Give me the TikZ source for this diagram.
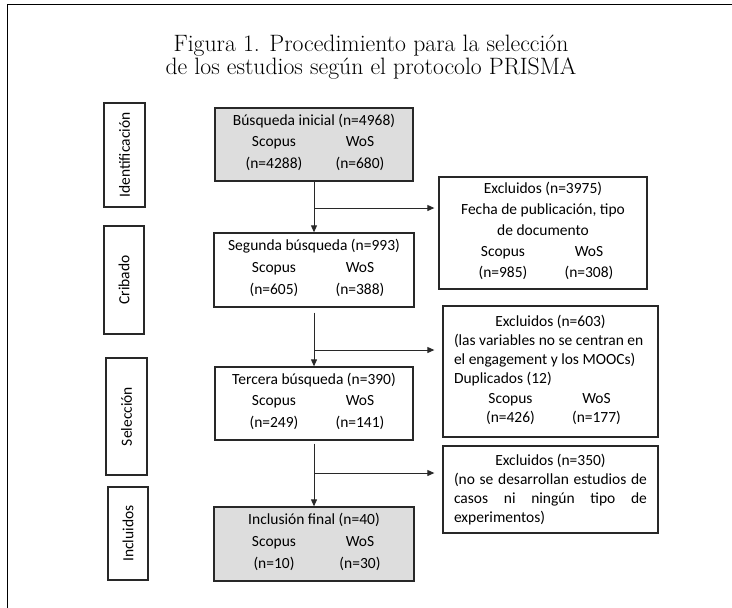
\documentclass[tikz,border=0pt]{standalone}
\usepackage{fontspec}
\usepackage{array}
\newfontfamily\bodyfont{Carlito}
\usetikzlibrary{arrows.meta}
\setlength{\parindent}{0pt}
\definecolor{boxgray}{RGB}{221,221,221}
\definecolor{linec}{RGB}{40,40,40}
\newcommand\swcols[4]{\hspace*{6pt}\begin{tabular}[t]{@{}>{\centering}p{74pt}>{\centering\arraybackslash}p{74pt}@{}}#1&#2\\#3&#4\end{tabular}}
\begin{document}
\begin{tikzpicture}[x=1pt,y=-1pt,
  mbox/.style={draw=linec,line width=1.3pt,inner sep=0pt,align=center,
    font=\bodyfont\fontsize{15.5}{21.7}\selectfont},
  grayed/.style={fill=boxgray},
  lab/.style={draw=linec,line width=1.3pt,inner sep=0pt,rotate=90,
    font=\bodyfont\fontsize{15.5}{18}\selectfont},
  conn/.style={draw=linec,line width=0.9pt},
  arr/.style={-{Triangle[length=7pt,width=6pt]}}]
\useasboundingbox (0,0) rectangle (732,608);
% outer frame
\draw[line width=1.8pt,black] (7.5,608) -- (7.5,4.5) -- (732,4.5);
% title
\node[font=\fontsize{23.7}{23.5}\selectfont,align=center] (title) at (371,57)
  {Figura 1. Procedimiento para la selección\\de los estudios según el protocolo PRISMA};
% phase labels
\node[lab,minimum width=104pt,minimum height=41pt] (L1) at (124.5,155) {Identificación};
\node[lab,minimum width=108pt,minimum height=40pt] (L2) at (124,280) {Cribado};
\node[lab,minimum width=117pt,minimum height=41pt] (L3) at (126.5,416.5) {Selección};
\node[lab,minimum width=93pt,minimum height=40pt] (L4) at (128,533.5) {Incluidos};
% main boxes
\node[mbox,grayed,minimum width=198pt,minimum height=73pt] (B1) at (314,144.5)
  {Búsqueda inicial (n=4968)\\\swcols{Scopus}{WoS}{(n=4288)}{(n=680)}};
\node[mbox,minimum width=200pt,minimum height=74pt] (B2) at (314,270)
  {Segunda búsqueda (n=993)\\\swcols{Scopus}{WoS}{(n=605)}{(n=388)}};
\node[mbox,minimum width=198pt,minimum height=73pt] (B3) at (314,403.5)
  {Tercera búsqueda (n=390)\\\swcols{Scopus}{WoS}{(n=249)}{(n=141)}};
\node[mbox,grayed,minimum width=200pt,minimum height=74pt] (B4) at (314,544)
  {Inclusión final (n=40)\\\swcols{Scopus}{WoS}{(n=10)}{(n=30)}};
% exclusion boxes
\node[mbox,font=\bodyfont\fontsize{15.5}{21}\selectfont,minimum width=208pt,minimum height=112pt] (E1) at (543,233)
  {Excluidos (n=3975)\\Fecha de publicación, tipo\\de documento\\\swcols{Scopus}{WoS}{(n=985)}{(n=308)}};
\node[mbox,align=none,text width=193pt,font=\bodyfont\fontsize{15.5}{19.3}\selectfont,minimum width=215pt,minimum height=131pt] (E2) at (550.5,371.5)
  {\centering Excluidos (n=603)\par
   \raggedright (las variables no se centran en\\el engagement y los MOOCs)\\Duplicados (12)\par
   \centering\swcols{Scopus}{WoS}{(n=426)}{(n=177)}\par};
\node[mbox,align=none,text width=193pt,font=\bodyfont\fontsize{15.5}{19.1}\selectfont,minimum width=215pt,minimum height=87pt] (E3) at (550.5,489.5)
  {\centering Excluidos (n=350)\par
   \leftskip=0pt \rightskip=0pt \parfillskip=0pt plus 1fil
   (no se desarrollan estudios de\linebreak casos ni ningún tipo de\linebreak experimentos)\par};
% connectors
\coordinate (j1) at (314,208);
\coordinate (j2) at (314,350);
\coordinate (j3) at (314,473);
\draw[conn,arr] (B1) -- (B2);
\draw[conn,arr,shorten <=5pt] (B2) -- (B3);
\draw[conn,arr,shorten <=3pt] (B3) -- (B4);
\draw[conn,arr,shorten >=4pt] (j1) -- (j1 -| E1.west);
\draw[conn,arr,shorten >=8pt] (j2) -- (j2 -| E2.west);
\draw[conn,arr,shorten >=8pt] (j3) -- (j3 -| E3.west);
\end{tikzpicture}
\end{document}
